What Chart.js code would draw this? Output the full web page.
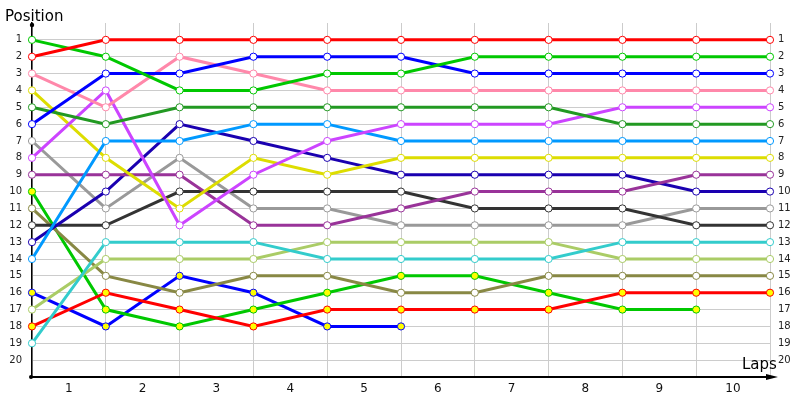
<!DOCTYPE html>
<html>
<head>
<meta charset="utf-8">
<script src="https://cdn.jsdelivr.net/npm/chart.js@4"></script>
<style>
html, body { margin: 0; padding: 0; background: #fff; }
</style>
</head>
<body>
<canvas id="raceChart" width="800" height="400"></canvas>
<script>
// laps (0 = start grid) and tick labels
const laps = [0, 1, 2, 3, 4, 5, 6, 7, 8, 9, 10];
const lapLabels = ['1', '2', '3', '4', '5', '6', '7', '8', '9', '10'];
const positions = [1, 2, 3, 4, 5, 6, 7, 8, 9, 10, 11, 12, 13, 14, 15, 16, 17, 18, 19, 20];

// position of each car after each lap
const redCar     = [2, 1, 1, 1, 1, 1, 1, 1, 1, 1, 1];
const greenCar   = [1, 2, 4, 4, 3, 3, 2, 2, 2, 2, 2];
const blueCar    = [6, 3, 3, 2, 2, 2, 3, 3, 3, 3, 3];
const pinkCar    = [3, 5, 2, 3, 4, 4, 4, 4, 4, 4, 4];
const darkGreen  = [5, 6, 5, 5, 5, 5, 5, 5, 6, 6, 6];
const violetCar  = [8, 4, 12, 9, 7, 6, 6, 6, 5, 5, 5];
const skyCar     = [14, 7, 7, 6, 6, 7, 7, 7, 7, 7, 7];
const yellowCar  = [4, 8, 11, 8, 9, 8, 8, 8, 8, 8, 8];
const purpleCar  = [9, 9, 9, 12, 12, 11, 10, 10, 10, 9, 9];
const indigoCar  = [13, 10, 6, 7, 8, 9, 9, 9, 9, 10, 10];
const blackCar   = [12, 12, 10, 10, 10, 10, 11, 11, 11, 12, 12];
const grayCar    = [7, 11, 8, 11, 11, 12, 12, 12, 12, 11, 11];
const cyanCar    = [19, 13, 13, 13, 14, 14, 14, 14, 13, 13, 13];
const limeCar    = [17, 14, 14, 14, 13, 13, 13, 13, 14, 14, 14];
const oliveCar   = [11, 15, 16, 15, 15, 16, 16, 15, 15, 15, 15];
const redCar2    = [18, 16, 17, 18, 17, 17, 17, 17, 16, 16, 16];
const greenCar2  = [10, 17, 18, 17, 16, 15, 15, 16, 17, 17, null];
const blueCar2   = [16, 18, 15, 16, 18, 18, null, null, null, null, null];

// [data, line colour, marker fill]
const cars = [
    [redCar, '#ff0000', '#ffffff'],
    [greenCar, '#00c800', '#ffffff'],
    [blueCar, '#0000ff', '#ffffff'],
    [pinkCar, '#ff88aa', '#ffffff'],
    [darkGreen, '#229922', '#ffffff'],
    [violetCar, '#cc44ff', '#ffffff'],
    [skyCar, '#0099ff', '#ffffff'],
    [yellowCar, '#dddd00', '#ffffff'],
    [purpleCar, '#993399', '#ffffff'],
    [indigoCar, '#1a00b0', '#ffffff'],
    [blackCar, '#333333', '#ffffff'],
    [grayCar, '#999999', '#ffffff'],
    [cyanCar, '#33cccc', '#ffffff'],
    [limeCar, '#aacc66', '#ffffff'],
    [oliveCar, '#888844', '#ffffff'],
    [redCar2, '#ff0000', '#ffff00'],
    [greenCar2, '#00c800', '#ffff00'],
    [blueCar2, '#0000ff', '#ffff00']
];

// axis titles, arrow and dots
const decorations = {
    id: 'decorations',
    afterDraw(chart) {
        const { ctx, chartArea } = chart;
        ctx.save();
        ctx.fillStyle = '#000';
        ctx.font = '15px "DejaVu Sans"';
        ctx.textBaseline = 'alphabetic';
        ctx.fillText('Position', 5, 21);
        ctx.fillText('Laps', chartArea.right - 28, chartArea.bottom - 8);
        // arrow at the end of the x axis
        const y = chartArea.bottom;
        ctx.beginPath();
        ctx.moveTo(chartArea.right - 4, y - 3);
        ctx.lineTo(chartArea.right + 8, y);
        ctx.lineTo(chartArea.right - 4, y + 3);
        ctx.closePath();
        ctx.fill();
        ctx.fillRect(chartArea.right - 2, y - 1, 4, 2);
        // dots on the y axis
        ctx.beginPath();
        ctx.arc(chartArea.left, chartArea.top + 2, 2.2, 0, Math.PI * 2);
        ctx.fill();
        ctx.beginPath();
        ctx.arc(chartArea.left - 1, y, 2, 0, Math.PI * 2);
        ctx.fill();
        ctx.restore();
    }
};

const ctx = document.getElementById('raceChart').getContext('2d');
new Chart(ctx, {
    type: 'line',
    data: {
        datasets: cars.map(([values, color, fill]) => ({
            data: laps.map((lap, i) => ({ x: lap, y: values[i] })),
            borderColor: color,
            backgroundColor: color,
            borderWidth: 3,
            pointRadius: 3.6,
            pointBorderWidth: 1,
            pointBorderColor: color,
            pointBackgroundColor: fill,
            spanGaps: false,
            tension: 0,
            clip: false
        }))
    },
    options: {
        responsive: false,
        animation: false,
        layout: { padding: { top: 23, left: 0, right: 0, bottom: 0 } },
        plugins: {
            legend: { display: false },
            tooltip: { enabled: false }
        },
        scales: {
            x: {
                type: 'linear',
                min: 0,
                max: 10,
                afterBuildTicks: axis => { axis.ticks = laps.map(v => ({ value: v })); },
                afterFit: axis => { axis.height = 23; },
                grid: { color: '#cccccc', drawTicks: false },
                border: { color: '#000', width: 2 },
                ticks: {
                    padding: 5,
                    labelOffset: -37,
                    maxRotation: 0,
                    autoSkip: false,
                    color: '#111',
                    font: { family: 'DejaVu Sans', size: 12 },
                    callback: v => (v === 0 ? '' : lapLabels[v - 1])
                }
            },
            y: {
                min: 0,
                max: 21,
                reverse: true,
                afterBuildTicks: axis => { axis.ticks = positions.map(v => ({ value: v })); },
                afterFit: axis => { axis.width = 32; },
                grid: { color: '#cccccc', drawTicks: false },
                border: { color: '#000', width: 1.5 },
                ticks: {
                    padding: 10,
                    autoSkip: false,
                    color: '#222',
                    font: { family: 'DejaVu Sans', size: 10 }
                }
            },
            y2: {
                position: 'right',
                min: 0,
                max: 21,
                reverse: true,
                afterBuildTicks: axis => { axis.ticks = positions.map(v => ({ value: v })); },
                afterFit: axis => { axis.width = 30; },
                grid: { display: false, drawTicks: false },
                border: { display: false },
                ticks: {
                    padding: 8,
                    autoSkip: false,
                    color: '#222',
                    font: { family: 'DejaVu Sans', size: 10 }
                }
            }
        }
    },
    plugins: [decorations]
});
</script>
</body>
</html>
